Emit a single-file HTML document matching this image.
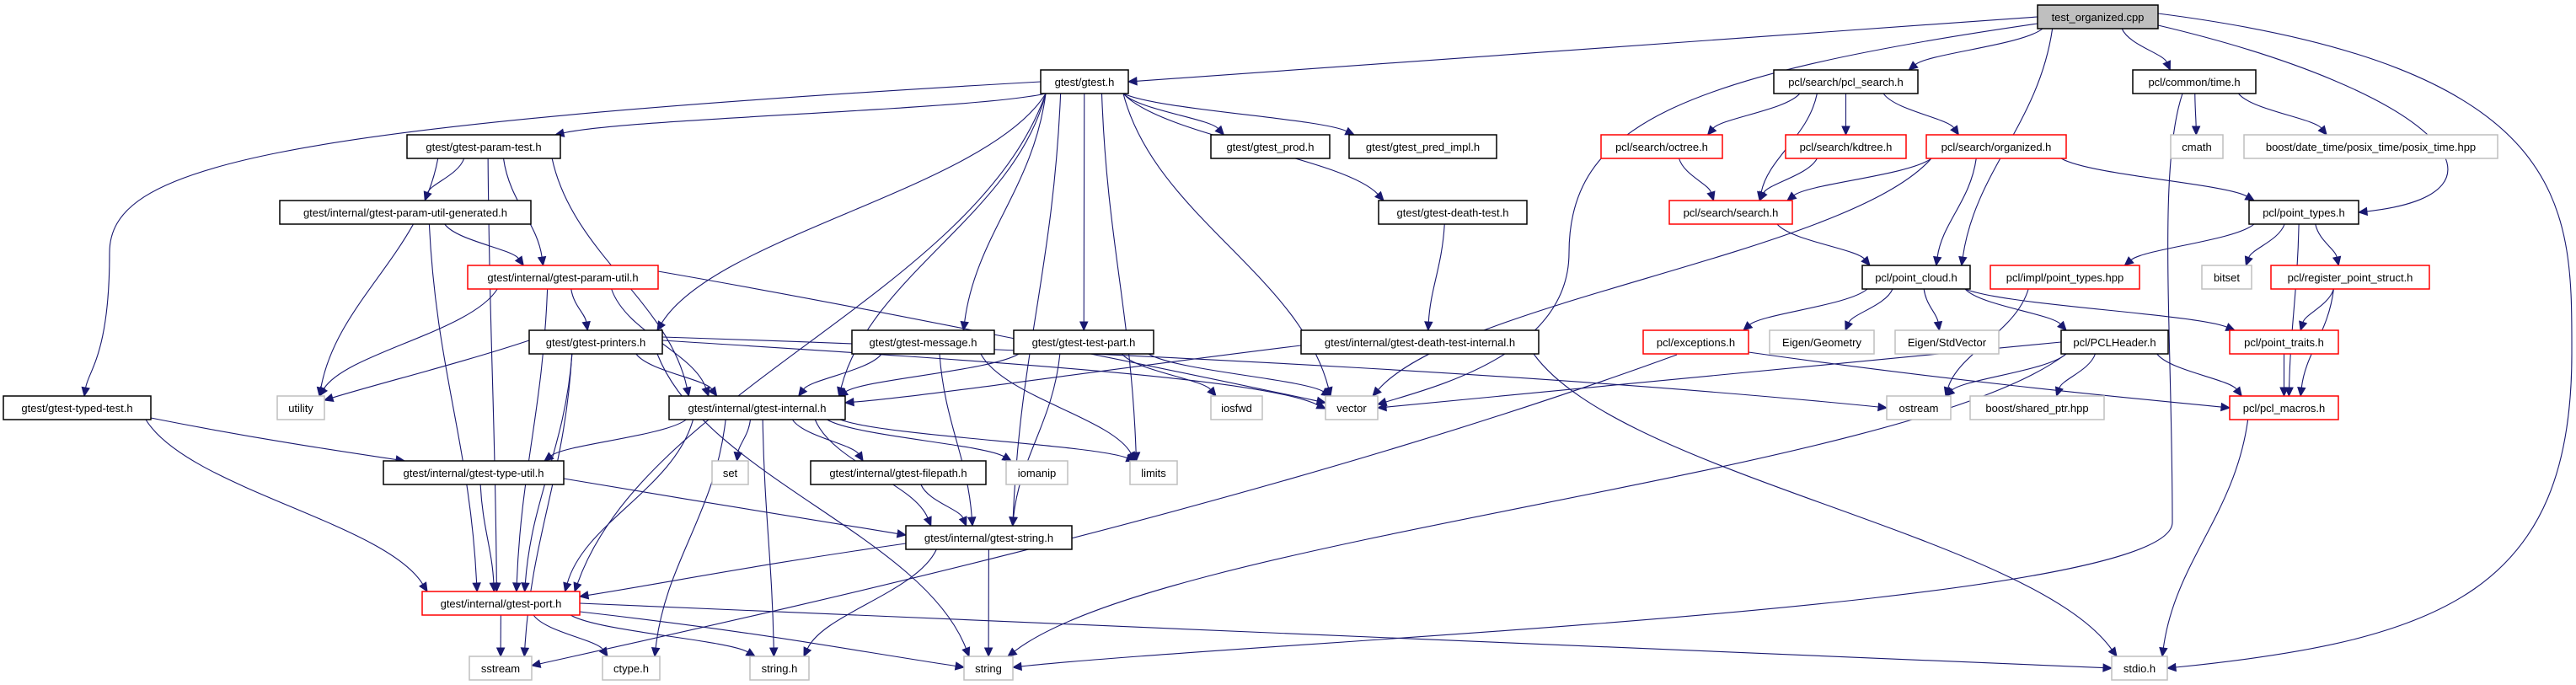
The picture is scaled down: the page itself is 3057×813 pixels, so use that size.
<!DOCTYPE html>
<html><head><meta charset="utf-8"><style>
html,body{margin:0;padding:0;background:#fff;}
svg{display:block;}
text{font-family:"Liberation Sans",sans-serif;font-size:13px;fill:#000;}
</style></head><body>
<svg id="g" width="3057" height="813" viewBox="0 0 3057 813" xmlns="http://www.w3.org/2000/svg">
<g id="edges" fill="none" stroke="#191970" stroke-width="1.1"></g>
<g id="arrows" fill="#191970" stroke="#191970"></g>
<g id="nodes" stroke-width="1.5">
<rect x="2418" y="6" width="143" height="28" fill="#bfbfbf" stroke="#000"/><text x="2489.5" y="25" text-anchor="middle">test_organized.cpp</text>
<rect x="1235" y="83" width="104" height="28" fill="#fff" stroke="#000"/><text x="1287" y="102" text-anchor="middle">gtest/gtest.h</text>
<rect x="2105" y="83" width="171" height="28" fill="#fff" stroke="#000"/><text x="2190.5" y="102" text-anchor="middle">pcl/search/pcl_search.h</text>
<rect x="2531" y="83" width="146" height="28" fill="#fff" stroke="#000"/><text x="2604" y="102" text-anchor="middle">pcl/common/time.h</text>
<rect x="483" y="160" width="182" height="28" fill="#fff" stroke="#000"/><text x="574" y="179" text-anchor="middle">gtest/gtest-param-test.h</text>
<rect x="1437" y="160" width="141" height="28" fill="#fff" stroke="#000"/><text x="1507.5" y="179" text-anchor="middle">gtest/gtest_prod.h</text>
<rect x="1601" y="160" width="175" height="28" fill="#fff" stroke="#000"/><text x="1688.5" y="179" text-anchor="middle">gtest/gtest_pred_impl.h</text>
<rect x="1900" y="160" width="144" height="28" fill="#fff" stroke="#f00"/><text x="1972" y="179" text-anchor="middle">pcl/search/octree.h</text>
<rect x="2119" y="160" width="143" height="28" fill="#fff" stroke="#f00"/><text x="2190.5" y="179" text-anchor="middle">pcl/search/kdtree.h</text>
<rect x="2286" y="160" width="166" height="28" fill="#fff" stroke="#f00"/><text x="2369" y="179" text-anchor="middle">pcl/search/organized.h</text>
<rect x="2576" y="160" width="62" height="28" fill="#fff" stroke="#bfbfbf"/><text x="2607" y="179" text-anchor="middle">cmath</text>
<rect x="2663" y="160" width="301" height="28" fill="#fff" stroke="#bfbfbf"/><text x="2813.5" y="179" text-anchor="middle">boost/date_time/posix_time/posix_time.hpp</text>
<rect x="332" y="238" width="298" height="28" fill="#fff" stroke="#000"/><text x="481" y="257" text-anchor="middle">gtest/internal/gtest-param-util-generated.h</text>
<rect x="1636" y="238" width="176" height="28" fill="#fff" stroke="#000"/><text x="1724" y="257" text-anchor="middle">gtest/gtest-death-test.h</text>
<rect x="1981" y="238" width="146" height="28" fill="#fff" stroke="#f00"/><text x="2054" y="257" text-anchor="middle">pcl/search/search.h</text>
<rect x="2669" y="238" width="130" height="28" fill="#fff" stroke="#000"/><text x="2734" y="257" text-anchor="middle">pcl/point_types.h</text>
<rect x="555" y="315" width="226" height="28" fill="#fff" stroke="#f00"/><text x="668" y="334" text-anchor="middle">gtest/internal/gtest-param-util.h</text>
<rect x="2210" y="315" width="128" height="28" fill="#fff" stroke="#000"/><text x="2274" y="334" text-anchor="middle">pcl/point_cloud.h</text>
<rect x="2362" y="315" width="177" height="28" fill="#fff" stroke="#f00"/><text x="2450.5" y="334" text-anchor="middle">pcl/impl/point_types.hpp</text>
<rect x="2613" y="315" width="59" height="28" fill="#fff" stroke="#bfbfbf"/><text x="2642.5" y="334" text-anchor="middle">bitset</text>
<rect x="2695" y="315" width="188" height="28" fill="#fff" stroke="#f00"/><text x="2789" y="334" text-anchor="middle">pcl/register_point_struct.h</text>
<rect x="628" y="392" width="158" height="28" fill="#fff" stroke="#000"/><text x="707" y="411" text-anchor="middle">gtest/gtest-printers.h</text>
<rect x="1011" y="392" width="169" height="28" fill="#fff" stroke="#000"/><text x="1095.5" y="411" text-anchor="middle">gtest/gtest-message.h</text>
<rect x="1203" y="392" width="166" height="28" fill="#fff" stroke="#000"/><text x="1286" y="411" text-anchor="middle">gtest/gtest-test-part.h</text>
<rect x="1544" y="392" width="282" height="28" fill="#fff" stroke="#000"/><text x="1685" y="411" text-anchor="middle">gtest/internal/gtest-death-test-internal.h</text>
<rect x="1950" y="392" width="125" height="28" fill="#fff" stroke="#f00"/><text x="2012.5" y="411" text-anchor="middle">pcl/exceptions.h</text>
<rect x="2100" y="392" width="124" height="28" fill="#fff" stroke="#bfbfbf"/><text x="2162" y="411" text-anchor="middle">Eigen/Geometry</text>
<rect x="2249" y="392" width="123" height="28" fill="#fff" stroke="#bfbfbf"/><text x="2310.5" y="411" text-anchor="middle">Eigen/StdVector</text>
<rect x="2446" y="392" width="127" height="28" fill="#fff" stroke="#000"/><text x="2509.5" y="411" text-anchor="middle">pcl/PCLHeader.h</text>
<rect x="2646" y="392" width="129" height="28" fill="#fff" stroke="#f00"/><text x="2710.5" y="411" text-anchor="middle">pcl/point_traits.h</text>
<rect x="4" y="470" width="175" height="28" fill="#fff" stroke="#000"/><text x="91.5" y="489" text-anchor="middle">gtest/gtest-typed-test.h</text>
<rect x="329" y="470" width="56" height="28" fill="#fff" stroke="#bfbfbf"/><text x="357" y="489" text-anchor="middle">utility</text>
<rect x="794" y="470" width="209" height="28" fill="#fff" stroke="#000"/><text x="898.5" y="489" text-anchor="middle">gtest/internal/gtest-internal.h</text>
<rect x="1437" y="470" width="61" height="28" fill="#fff" stroke="#bfbfbf"/><text x="1467.5" y="489" text-anchor="middle">iosfwd</text>
<rect x="1573" y="470" width="62" height="28" fill="#fff" stroke="#bfbfbf"/><text x="1604" y="489" text-anchor="middle">vector</text>
<rect x="2239" y="470" width="76" height="28" fill="#fff" stroke="#bfbfbf"/><text x="2277" y="489" text-anchor="middle">ostream</text>
<rect x="2338" y="470" width="159" height="28" fill="#fff" stroke="#bfbfbf"/><text x="2417.5" y="489" text-anchor="middle">boost/shared_ptr.hpp</text>
<rect x="2646" y="470" width="129" height="28" fill="#fff" stroke="#f00"/><text x="2710.5" y="489" text-anchor="middle">pcl/pcl_macros.h</text>
<rect x="455" y="547" width="214" height="28" fill="#fff" stroke="#000"/><text x="562" y="566" text-anchor="middle">gtest/internal/gtest-type-util.h</text>
<rect x="845" y="547" width="43" height="28" fill="#fff" stroke="#bfbfbf"/><text x="866.5" y="566" text-anchor="middle">set</text>
<rect x="962" y="547" width="208" height="28" fill="#fff" stroke="#000"/><text x="1066" y="566" text-anchor="middle">gtest/internal/gtest-filepath.h</text>
<rect x="1194" y="547" width="73" height="28" fill="#fff" stroke="#bfbfbf"/><text x="1230.5" y="566" text-anchor="middle">iomanip</text>
<rect x="1341" y="547" width="56" height="28" fill="#fff" stroke="#bfbfbf"/><text x="1369" y="566" text-anchor="middle">limits</text>
<rect x="1075" y="624" width="197" height="28" fill="#fff" stroke="#000"/><text x="1173.5" y="643" text-anchor="middle">gtest/internal/gtest-string.h</text>
<rect x="501" y="702" width="187" height="28" fill="#fff" stroke="#f00"/><text x="594.5" y="721" text-anchor="middle">gtest/internal/gtest-port.h</text>
<rect x="557" y="779" width="74" height="28" fill="#fff" stroke="#bfbfbf"/><text x="594" y="798" text-anchor="middle">sstream</text>
<rect x="715" y="779" width="68" height="28" fill="#fff" stroke="#bfbfbf"/><text x="749" y="798" text-anchor="middle">ctype.h</text>
<rect x="890" y="779" width="70" height="28" fill="#fff" stroke="#bfbfbf"/><text x="925" y="798" text-anchor="middle">string.h</text>
<rect x="1144" y="779" width="58" height="28" fill="#fff" stroke="#bfbfbf"/><text x="1173" y="798" text-anchor="middle">string</text>
<rect x="2506" y="779" width="66" height="28" fill="#fff" stroke="#bfbfbf"/><text x="2539" y="798" text-anchor="middle">stdio.h</text>
</g>
</svg>
<script>
var N={root:[2418,6,143],gtest:[1235,83,104],pcls:[2105,83,171],time:[2531,83,146],ptest:[483,160,182],prod:[1437,160,141],pred:[1601,160,175],octree:[1900,160,144],kdtree:[2119,160,143],org:[2286,160,166],cmath:[2576,160,62],posix:[2663,160,301],pug:[332,238,298],death:[1636,238,176],search:[1981,238,146],ptypes:[2669,238,130],putil:[555,315,226],cloud:[2210,315,128],impl:[2362,315,177],bitset:[2613,315,59],reg:[2695,315,188],printers:[628,392,158],message:[1011,392,169],testpart:[1203,392,166],dti:[1544,392,282],exc:[1950,392,125],geom:[2100,392,124],stdvec:[2249,392,123],hdr:[2446,392,127],traits:[2646,392,129],typed:[4,470,175],utility:[329,470,56],internal:[794,470,209],iosfwd:[1437,470,61],vector:[1573,470,62],ostream:[2239,470,76],shared:[2338,470,159],macros:[2646,470,129],typeutil:[455,547,214],set:[845,547,43],filepath:[962,547,208],iomanip:[1194,547,73],limits:[1341,547,56],gstring:[1075,624,197],port:[501,702,187],sstream:[557,779,74],ctype:[715,779,68],stringh:[890,779,70],string:[1144,779,58],stdio:[2506,779,66]};
var E=[["gtest","ptest"],["gtest","printers"],["gtest","internal"],["gtest","message"],["gtest","testpart"],["gtest","prod"],["gtest","pred"],["gtest","death"],["gtest","limits"],["gtest","vector"],["gtest","gstring"],["gtest","port"],
["ptest","pug"],["ptest","putil"],["ptest","internal"],["ptest","utility"],["ptest","port"],["pug","putil"],["pug","port"],
["putil","printers"],["putil","internal"],["putil","utility"],["putil","port"],
["printers","internal"],["printers","port"],["printers","sstream"],["printers","string"],
["typed","port"],["internal","typeutil"],["internal","port"],["internal","set"],["internal","filepath"],["internal","iomanip"],["internal","limits"],["internal","gstring"],["internal","ctype"],["internal","stringh"],
["typeutil","port"],["filepath","gstring"],["gstring","stringh"],["gstring","string"],
["message","internal"],["message","limits"],["message","gstring"],["testpart","internal"],["testpart","iosfwd"],["testpart","vector"],["testpart","gstring"],
["death","dti"],["dti","stdio"],["port","sstream"],["port","ctype"],["port","stringh"],
["root","pcls"],["root","time"],["root","cloud"],["pcls","octree"],["pcls","kdtree"],["pcls","org"],["pcls","search"],["octree","search"],["kdtree","search"],["org","search"],["org","cloud"],["org","ptypes"],["org","vector"],["search","cloud"],
["cloud","exc"],["cloud","geom"],["cloud","stdvec"],["cloud","hdr"],["cloud","traits"],["hdr","ostream"],["hdr","shared"],["hdr","macros"],["hdr","string"],
["ptypes","impl"],["ptypes","bitset"],["ptypes","reg"],["ptypes","macros"],["impl","ostream"],["reg","traits"],["reg","macros"],["traits","macros"],["macros","stdio"],
["time","cmath"],["time","posix"]];
var P=[];
function cl(v,a,b){return Math.max(a,Math.min(b,v));}
E.forEach(function(e){var a=N[e[0]],b=N[e[1]];var ac=a[0]+a[2]/2,bc=b[0]+b[2]/2;
var sx=ac+cl((bc-ac)*0.25,-a[2]/2+6,a[2]/2-6),sy=a[1]+28;
var tx=bc+cl((ac-bc)*0.25,-b[2]/2+6,b[2]/2-6),ty=b[1];var dy=ty-sy;
P.push([sx,sy,sx+(tx-sx)*0.15,sy+dy*0.4,tx-(tx-sx)*0.15,ty-dy*0.4,tx,ty]);});
// custom
P.push([2418,20,2000,50,1600,80,1339,97]);
P.push([2561,30,2900,110,3000,230,2799,252]);
P.push([2561,16,3060,80,3052,250,3052,420,"C",3052,700,2900,760,2572,793]);
P.push([2418,28,1990,90,1862,150,1862,300,"C",1862,420,1700,460,1635,480]);
P.push([2590,111,2560,200,2578,400,2578,620,"C",2578,720,1500,760,1202,792]);
P.push([1235,97,300,150,130,200,130,300,"C",130,420,105,440,100,470]);
P.push([179,496,300,520,400,535,480,547]);
P.push([688,716,1200,740,2000,770,2506,793]);
P.push([688,726,900,750,1000,770,1144,792]);
P.push([1990,421,1500,600,900,730,631,790]);
P.push([781,322,1000,360,1300,420,1573,478]);
P.push([786,404,1200,430,1500,450,1573,485]);
P.push([786,400,1400,420,1900,450,2239,484]);
P.push([2446,406,2100,440,1800,470,1635,484]);
P.push([2075,418,2300,450,2500,470,2646,484]);
P.push([1544,410,1300,440,1100,470,1003,478]);
P.push([669,568,800,590,950,615,1075,635]);
P.push([1075,645,900,670,800,690,688,708]);
P.push([628,404,550,430,450,455,385,475]);
var eg=document.getElementById('edges'),ag=document.getElementById('arrows'),ns='http://www.w3.org/2000/svg';
P.forEach(function(p){var segs=[];var cur=[p[0],p[1]];var i=2;var pts=[];while(i<p.length){if(p[i]==="C")i++;pts.push(p.slice(i,i+6));i+=6;}
var last=pts[pts.length-1];var ex=last[4],ey=last[5],cx=last[2],cy=last[3];var dx=ex-cx,dy=ey-cy,l=Math.sqrt(dx*dx+dy*dy)||1;dx/=l;dy/=l;
var bx=ex-dx*10,by=ey-dy*10;last[4]=bx;last[5]=by;
var d='M'+p[0]+','+p[1];pts.forEach(function(s){d+=' C'+s.join(',');});
var pa=document.createElementNS(ns,'path');pa.setAttribute('d',d);eg.appendChild(pa);
var px=-dy,py=dx;var t=document.createElementNS(ns,'polygon');
t.setAttribute('points',ex+','+ey+' '+(bx+px*4.5)+','+(by+py*4.5)+' '+(bx-px*4.5)+','+(by-py*4.5));ag.appendChild(t);});
</script>
</body></html>
